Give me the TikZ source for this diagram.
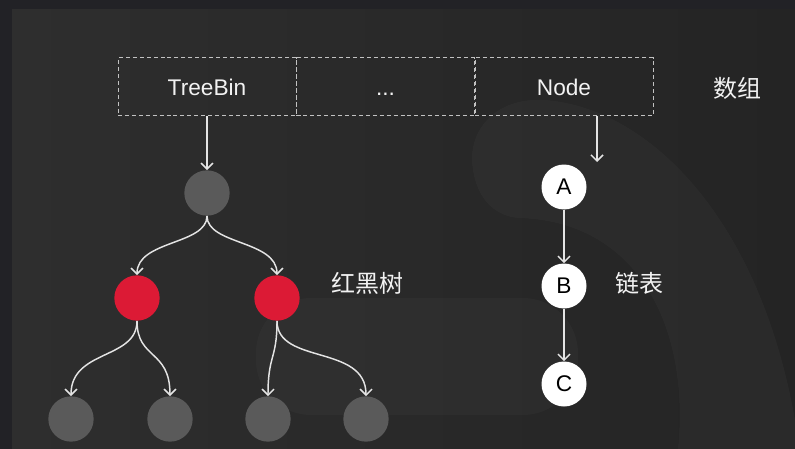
\documentclass[tikz,border=0pt]{standalone}
\usepackage{fontspec}
\setmainfont{Liberation Sans}
\newfontfamily\cjk{Noto Sans CJK SC}
\usetikzlibrary{arrows.meta}
\definecolor{bgout}{HTML}{222226}
\definecolor{bgL}{HTML}{2E2E2E}
\definecolor{bgR}{HTML}{242424}
\definecolor{greyc}{HTML}{5A5A5A}
\definecolor{redc}{HTML}{DC1A35}
\definecolor{linec}{HTML}{E4E4E4}
\definecolor{txt}{HTML}{F2F2F2}
\tikzset{
  cell/.style={draw=linec!85!black, dashed, dash pattern=on 3pt off 2.2pt, line width=0.75pt,
    minimum width=133.5pt, minimum height=43.5pt, inner sep=0pt, text height=12.5pt, text depth=0pt,
    font=\fontsize{17}{19}\selectfont, text=txt},
  greynode/.style={circle, fill=greyc, minimum size=34pt, inner sep=0pt},
  rednode/.style={circle, fill=redc, minimum size=34pt, inner sep=0pt},
  listnode/.style={circle, fill=white, minimum size=33.75pt, inner sep=0pt, text=black, font=\fontsize{17}{19}\selectfont},
  lbl/.style={text=txt, font=\cjk\fontsize{18}{20}\selectfont},
  arr/.style={draw=linec, line width=1.1pt, -{Straight Barb[length=4.5pt,width=9pt,line width=1.1pt]}}
}
\begin{document}
\begin{tikzpicture}[x=0.75pt,y=-0.75pt]
\useasboundingbox (0,0) rectangle (795,449);
\fill[bgout] (0,0) rectangle (795,449);
\shade[left color=bgL, right color=bgR] (12,10) rectangle (795,449);
% faint watermark shapes
\fill[white, opacity=0.028] (520,218) .. controls (640,222) and (690,330) .. (678,449)
  -- (795,449) -- (795,420) .. controls (760,220) and (650,108) .. (545,100)
  .. controls (495,97) and (471,130) .. (472,160) .. controls (474,198) and (495,217) .. (520,218) -- cycle;
\fill[white, opacity=0.025, rounded corners=55pt*0.75] (256,298) rectangle (578,415);

% array cells
\node[cell] (c1) at (207,87) {TreeBin};
\node[cell] (c2) at (385.5,87) {...};
\node[cell] (c3) at (564,87) {Node};
\node[lbl] (arrlbl) at (737,88) {数组};

% tree
\node[greynode] (root) at (207,193) {};
\node[rednode] (r1) at (137,298) {};
\node[rednode] (r2) at (277,298) {};
\node[greynode] (b1) at (71,419) {};
\node[greynode] (b2) at (170,419) {};
\node[greynode] (b3) at (268,419) {};
\node[greynode] (b4) at (366,419) {};
\node[lbl] (treelbl) at (367,283) {红黑树};

\draw[arr] (c1.south) -- (root.north);
\draw[arr] (root.south) .. controls +(0,29) and +(0,-35) .. (r1.north);
\draw[arr] (root.south) .. controls +(0,29) and +(0,-35) .. (r2.north);
\draw[arr] (r1.south) .. controls +(0,39) and +(0,-47) .. (b1.north);
\draw[arr] (r1.south) .. controls +(0,39) and +(0,-47) .. (b2.north);
\draw[arr] (r2.south) .. controls +(0,39) and +(0,-42) .. (b3.north);
\draw[arr] (r2.south) .. controls +(0,44) and +(0,-52) .. (b4.north);

% list
\coordinate (nstart) at (597,116);
\coordinate (nend) at (597,162);
\node[listnode] (A) at (564,187) {A};
\node[listnode] (B) at (564,286) {B};
\node[listnode] (C) at (564,384) {C};
\node[lbl] (listlbl) at (639,283) {链表};
\draw[arr] (nstart) -- (nend);
\draw[arr] (A.south) -- (B.north);
\draw[arr] (B.south) -- (C.north);
\end{tikzpicture}
\end{document}
